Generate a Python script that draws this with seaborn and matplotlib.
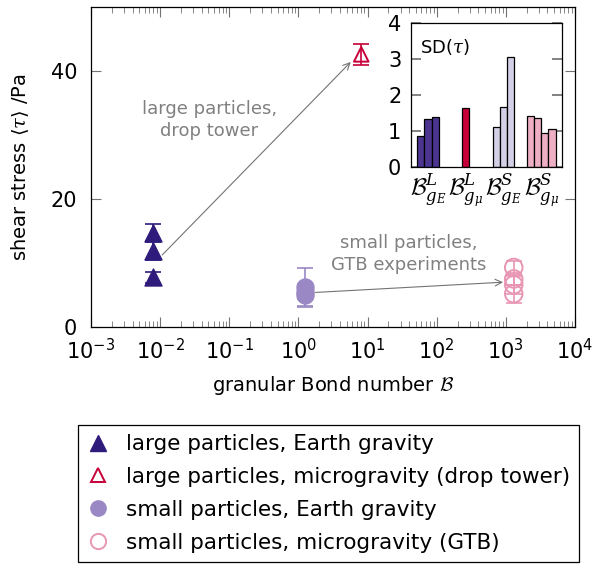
import numpy as np
import pandas as pd
import seaborn as sns
import matplotlib.pyplot as plt
from matplotlib.lines import Line2D

# main plot data
bond_LE = [0.0079, 0.0079, 0.0079]
tau_LE = [14.7, 11.9, 7.8]
err_LE = [1.32, 1.40, 0.85]

bond_Lmu = [8.1]
tau_Lmu = [42.6]
err_Lmu = [1.63]

bond_SE = [1.26, 1.26, 1.26]
tau_SE = [5.5, 5.0, 6.2]
err_SE = [1.10, 1.68, 3.05]

bond_Smu = [1300, 1300, 1300, 1300]
tau_Smu = [5.2, 6.6, 7.5, 9.3]
err_Smu = [1.43, 1.37, 0.95, 1.05]

# inset: standard deviations per group
groups = [r'$\mathcal{B}^L_{g_E}$', r'$\mathcal{B}^L_{g_\mu}$',
          r'$\mathcal{B}^S_{g_E}$', r'$\mathcal{B}^S_{g_\mu}$']
sd_vals = [[0.85, 1.32, 1.40], [1.63], [1.10, 1.68, 3.05], [1.43, 1.37, 0.95, 1.05]]

c_LE = '#2f1b7c'
c_Lmu = '#c70039'
c_SE = '#9a88c4'
c_Smu = '#e896b4'
bar_cols = ['#4c3590', '#c70039', '#d3cfe6', '#eeaec4']

sns.set_theme(style='ticks')
plt.rcParams['font.family'] = ['DejaVu Sans']
plt.rcParams['text.color'] = 'black'
plt.rcParams['axes.labelcolor'] = 'black'
plt.rcParams['xtick.labelcolor'] = 'black'
plt.rcParams['ytick.labelcolor'] = 'black'
plt.rcParams['mathtext.fontset'] = 'custom'
plt.rcParams['mathtext.rm'] = 'DejaVu Sans'
plt.rcParams['mathtext.it'] = 'DejaVu Serif:italic'
plt.rcParams['mathtext.cal'] = 'cmsy10'

fig = plt.figure(figsize=(5.95, 5.71), dpi=100)
ax = fig.add_axes([91/595, 1-327/571, 484/595, 320/571])

# error bars
for b, t, e, c in [(bond_LE, tau_LE, err_LE, c_LE), (bond_Lmu, tau_Lmu, err_Lmu, c_Lmu),
                   (bond_SE, tau_SE, err_SE, c_SE), (bond_Smu, tau_Smu, err_Smu, c_Smu)]:
    ax.errorbar(b, t, yerr=e, fmt='none', ecolor=c, elinewidth=1.2, capsize=6, capthick=1.2, zorder=2)

sns.scatterplot(x=bond_LE, y=tau_LE, marker='^', s=150, color=c_LE, edgecolor=c_LE, ax=ax, zorder=3)
sns.scatterplot(x=bond_Lmu, y=tau_Lmu, marker='^', s=110, facecolors='none', edgecolor=c_Lmu,
                linewidth=1.4, ax=ax, zorder=3)
sns.scatterplot(x=bond_SE, y=tau_SE, marker='o', s=150, color=c_SE, edgecolor=c_SE, ax=ax, zorder=3)
sns.scatterplot(x=bond_Smu, y=tau_Smu, marker='o', s=160, facecolors='none', edgecolor=c_Smu,
                linewidth=1.4, ax=ax, zorder=3)

ax.set_xscale('log')
ax.set_xlim(1e-3, 1e4)
ax.set_ylim(0, 50)
ax.set_yticks([0, 20, 40])
ax.set_xticks([10.0**k for k in range(-3, 5)])
ax.tick_params(which='both', direction='in', top=True, right=True, color='0.45', labelsize=15, pad=8)
ax.tick_params(axis='y', pad=10)
ax.tick_params(which='major', length=7, width=0.8)
ax.tick_params(which='minor', length=4, width=0.6)
for s in ax.spines.values():
    s.set_linewidth(0.9)
    s.set_color('black')
ax.set_xlabel(r'granular Bond number $\mathcal{B}$', fontsize=14, labelpad=8)
ax.set_ylabel(r'shear stress $\langle\tau\rangle$ /Pa', fontsize=14, labelpad=14)

arrow = dict(arrowstyle='->', color='0.45', lw=0.8, shrinkA=0, shrinkB=0)
ax.annotate('', xy=(5.7, 41.4), xytext=(0.0107, 11.25), arrowprops=arrow)
ax.annotate('', xy=(910, 7.0), xytext=(1.76, 5.4), arrowprops=arrow)
ax.text(0.051, 32.3, 'large particles,\ndrop tower', color='0.5', fontsize=13,
        ha='center', va='center', linespacing=1.3)
ax.text(39, 11.4, 'small particles,\nGTB experiments', color='0.5', fontsize=13,
        ha='center', va='center', linespacing=1.3)

# inset
ins = fig.add_axes([411/595, 1-167/571, 151/595, 144/571])
for gi, vals in enumerate(sd_vals):
    n = len(vals)
    w = 0.19
    pos = gi + (np.arange(n) - (n - 1) / 2) * w
    ins.bar(pos, vals, width=w, color=bar_cols[gi], edgecolor='black', linewidth=0.9)
ins.set_xlim(-0.45, 3.55)
ins.set_ylim(0, 4)
ins.set_yticks([0, 1, 2, 3, 4])
ins.set_xticks(range(4))
ins.set_xticklabels(groups, fontsize=17)
ins.tick_params(axis='x', length=0, pad=3)
ins.tick_params(axis='y', direction='in', right=True, length=7, color='0.45', labelsize=15, pad=7)
for s in ins.spines.values():
    s.set_linewidth(0.9)
    s.set_color('black')
ins.text(0.06, 0.9, r'$\mathrm{SD}(\tau)$', transform=ins.transAxes, fontsize=13,
         ha='left', va='top', family='DejaVu Serif')

handles = [
    Line2D([], [], ls='none', marker='^', markersize=11, color=c_LE),
    Line2D([], [], ls='none', marker='^', markersize=10, markerfacecolor='none',
           markeredgecolor=c_Lmu, markeredgewidth=1.4),
    Line2D([], [], ls='none', marker='o', markersize=11, color=c_SE),
    Line2D([], [], ls='none', marker='o', markersize=11, markerfacecolor='none',
           markeredgecolor=c_Smu, markeredgewidth=1.4),
]
labels = ['large particles, Earth gravity', 'large particles, microgravity (drop tower)',
          'small particles, Earth gravity', 'small particles, microgravity (GTB)']
leg = fig.legend(handles, labels, loc='upper left', bbox_to_anchor=(78/595, 1-425/571),
                 fontsize=15.5, frameon=True, fancybox=False, edgecolor='black', framealpha=1,
                 labelspacing=0.6, handletextpad=0.8, borderpad=0.42, handlelength=1.0,
                 borderaxespad=0)
leg.get_frame().set_linewidth(0.9)

fig.savefig('out.png', dpi=100)
